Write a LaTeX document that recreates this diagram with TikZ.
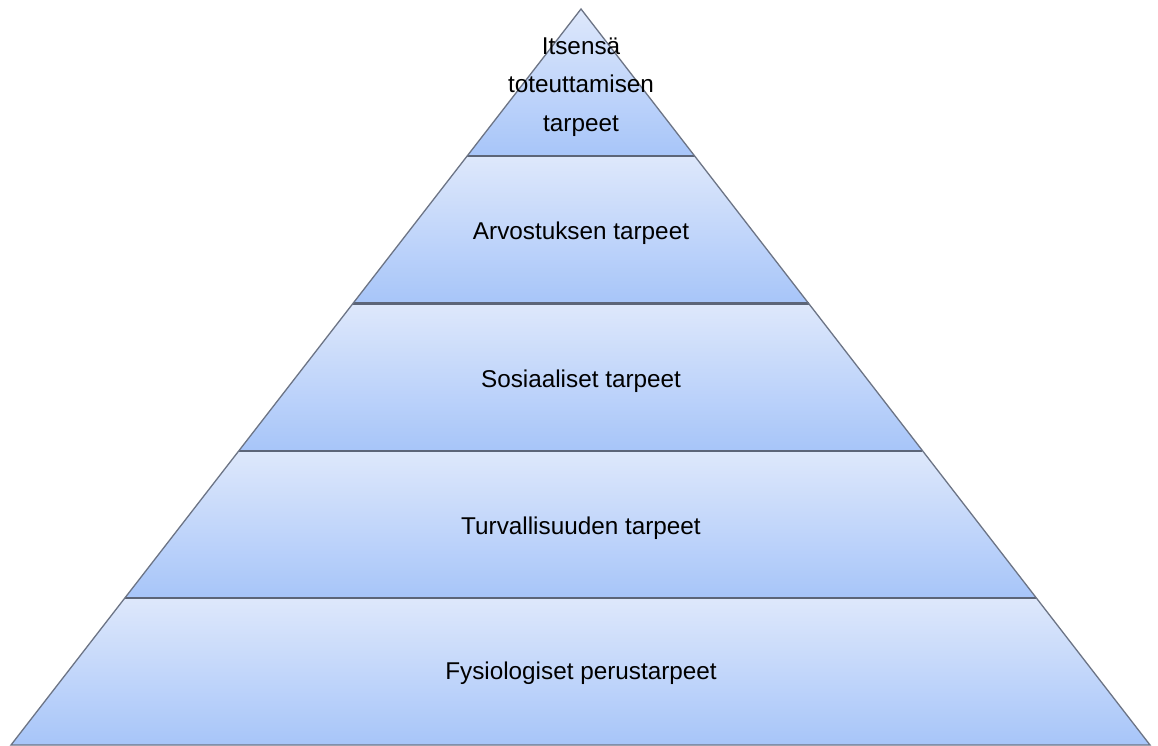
\documentclass[tikz,border=0pt]{standalone}
\usepackage{fontspec}
\setmainfont{Liberation Sans}
\definecolor{lighttop}{HTML}{DEE8FB}
\definecolor{darkbot}{HTML}{A7C5F9}
\definecolor{edgegray}{HTML}{6C7485}
\definecolor{sepgray}{HTML}{5C6578}
\tikzset{
  layer/.style={top color=lighttop, bottom color=darkbot, draw=none},
  outline/.style={draw=edgegray, line width=1.3pt, line join=miter},
  sepline/.style={draw=sepgray, line width=2.2pt},
  lbl/.style={font=\fontsize{24.3}{38.5}\selectfont, text=black, align=center, inner sep=0pt}
}
\begin{document}
\begin{tikzpicture}[x=1pt,y=-1pt]
\useasboundingbox[fill=white] (0,0) rectangle (1158,746);
% layers
\shade[layer] (581,9) -- (694.8,156.2) -- (467,156.2) -- cycle;
\shade[layer] (467,156.2) -- (694.8,156.2) -- (808.6,303.4) -- (353,303.4) -- cycle;
\shade[layer] (353,303.4) -- (808.6,303.4) -- (922.4,450.6) -- (239,450.6) -- cycle;
\shade[layer] (239,450.6) -- (922.4,450.6) -- (1036.2,597.8) -- (125,597.8) -- cycle;
\shade[layer] (125,597.8) -- (1036.2,597.8) -- (1150,745) -- (11,745) -- cycle;
% separators
\draw[sepline] (467,156.2) -- (694.8,156.2);
\draw[sepline] (353,303.4) -- (808.6,303.4);
\draw[sepline] (239,450.6) -- (922.4,450.6);
\draw[sepline] (125,597.8) -- (1036.2,597.8);
% outline
\draw[outline] (581,9) -- (1150,745) -- (11,745) -- cycle;
% labels
\node[lbl] (l5) at (581,87) {Itsensä\\toteuttamisen\\tarpeet};
\node[lbl] (l4) at (581,233) {Arvostuksen tarpeet};
\node[lbl] (l3) at (581,381) {Sosiaaliset tarpeet};
\node[lbl] (l2) at (581,528) {Turvallisuuden tarpeet};
\node[lbl] (l1) at (581,673) {Fysiologiset perustarpeet};
\end{tikzpicture}
\end{document}
